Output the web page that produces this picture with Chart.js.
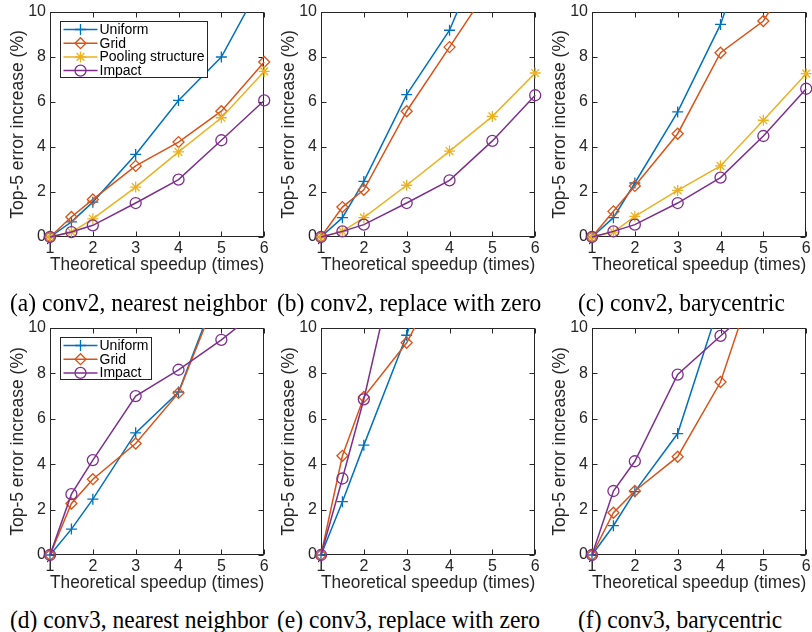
<!DOCTYPE html>
<html>
<head>
<meta charset="utf-8">
<script src="https://cdn.jsdelivr.net/npm/chart.js@4.4.0/dist/chart.umd.min.js"></script>
<style>
  body { margin: 0; background: #fff; }
  #fig { position: relative; width: 812px; height: 632px; overflow: hidden; background: #fff; }
  canvas { position: absolute; }
  .cap { position: absolute; font-family: "Liberation Serif", "Times New Roman", serif; font-size: 25px; color: #000; white-space: nowrap; line-height: 1; transform: scaleX(0.94); transform-origin: left top; }
</style>
</head>
<body>
<div id="fig">
  <canvas id="c2nn" width="271" height="276" style="left:0px;top:0px"></canvas>
  <canvas id="c2zero" width="271" height="276" style="left:271px;top:0px"></canvas>
  <canvas id="c2bary" width="271" height="276" style="left:542px;top:0px"></canvas>
  <canvas id="c3nn" width="271" height="278" style="left:0px;top:316px"></canvas>
  <canvas id="c3zero" width="271" height="278" style="left:271px;top:316px"></canvas>
  <canvas id="c3bary" width="271" height="278" style="left:542px;top:316px"></canvas>
  <div class="cap" style="left:10px;top:290px">(a) conv2, nearest neighbor</div>
  <div class="cap" style="left:277px;top:290px">(b) conv2, replace with zero</div>
  <div class="cap" style="left:578px;top:290px">(c) conv2, barycentric</div>
  <div class="cap" style="left:10px;top:607px">(d) conv3, nearest neighbor</div>
  <div class="cap" style="left:277px;top:607px">(e) conv3, replace with zero</div>
  <div class="cap" style="left:578px;top:607px">(f) conv3, barycentric</div>
</div>
<script>
// x positions of the samples (theoretical speedup)
const speedups = [1, 1.5, 2, 3, 4, 5, 6];

// conv2
const conv2NearestUniform = [0, 0.67, 1.55, 3.67, 6.07, 8.0, 11.5];
const conv2NearestGrid = [0, 0.89, 1.67, 3.16, 4.22, 5.59, 7.78];
const conv2NearestPooling = [0, 0.22, 0.81, 2.22, 3.78, 5.3, 7.36];
const conv2NearestImpact = [0, 0.22, 0.52, 1.51, 2.55, 4.3, 6.07];

const conv2ZeroUniform = [0, 0.86, 2.47, 6.33, 9.19, 13.7];
const conv2ZeroGrid = [0, 1.33, 2.1, 5.59, 8.44, 11.3];
const conv2ZeroPooling = [0, 0.25, 0.86, 2.3, 3.82, 5.36, 7.29];
const conv2ZeroImpact = [0, 0.25, 0.55, 1.51, 2.52, 4.27, 6.3];

const conv2BaryUniform = [0, 0.86, 2.4, 5.56, 9.45, 14.9];
const conv2BaryGrid = [0, 1.14, 2.27, 4.59, 8.19, 9.6, 12.7];
const conv2BaryPooling = [0, 0.22, 0.92, 2.07, 3.16, 5.19, 7.26];
const conv2BaryImpact = [0, 0.25, 0.55, 1.51, 2.64, 4.49, 6.59];

// conv3
const conv3NearestUniform = [0, 1.14, 2.46, 5.38, 7.18, 12.1];
const conv3NearestGrid = [0, 2.27, 3.34, 4.91, 7.14, 11.9];
const conv3NearestImpact = [0, 2.68, 4.18, 7.0, 8.16, 9.48, 10.97];

const conv3ZeroUniform = [0, 2.35, 4.84, 9.68, 16];
const conv3ZeroGrid = [0, 4.37, 6.96, 9.35, 12.95];
const conv3ZeroImpact = [0, 3.37, 6.86, 15.1];

const conv3BaryUniform = [0, 1.29, 2.79, 5.35, 11.2];
const conv3BaryGrid = [0, 1.86, 2.82, 4.33, 7.62, 13.3];
const conv3BaryImpact = [0, 2.82, 4.13, 7.95, 9.65, 11.3];

const FONT = '"Liberation Sans", Arial, sans-serif';
const AXIS = '#262626';
const styles = {
  Uniform: { color: '#0072BD', marker: 'cross' },
  Grid: { color: '#D95319', marker: 'rectRot' },
  'Pooling structure': { color: '#EDB120', marker: 'star' },
  Impact: { color: '#7E2F8E', marker: 'circle' },
};

function drawMarker(ctx, style, x, y, r) {
  if (Chart.helpers && Chart.helpers.drawPoint) {
    Chart.helpers.drawPoint(ctx, { pointStyle: style, radius: r, borderWidth: 1.3, rotation: 0 }, x, y);
  }
}

// box with inward ticks, like matlab axes
const matlabAxes = {
  id: 'matlabAxes',
  beforeDatasetsDraw(chart) {
    const { ctx, chartArea: a, scales: { x, y } } = chart;
    const L = Math.round(a.left) + 0.5, R = Math.round(a.right) - 0.5;
    const T = Math.round(a.top) + 0.5, B = Math.round(a.bottom) - 0.5;
    ctx.save();
    ctx.strokeStyle = AXIS;
    ctx.lineWidth = 1;
    ctx.strokeRect(L, T, R - L, B - T);
    ctx.beginPath();
    x.ticks.forEach((t) => {
      const px = Math.round(x.getPixelForValue(t.value)) + 0.5;
      ctx.moveTo(px, B); ctx.lineTo(px, B - 5);
      ctx.moveTo(px, T); ctx.lineTo(px, T + 5);
    });
    y.ticks.forEach((t) => {
      const py = Math.round(y.getPixelForValue(t.value)) + 0.5;
      ctx.moveTo(L, py); ctx.lineTo(L + 5, py);
      ctx.moveTo(R, py); ctx.lineTo(R - 5, py);
    });
    ctx.stroke();
    ctx.restore();
  },
};

const insetLegend = {
  id: 'insetLegend',
  afterDraw(chart, args, opts) {
    if (!opts.show) return;
    const { ctx, chartArea: a } = chart;
    const sets = chart.data.datasets;
    ctx.save();
    ctx.font = '14px ' + FONT;
    const maxW = Math.max(...sets.map((d) => ctx.measureText(d.label).width));
    const left = Math.round(a.left) + 10.5, top = Math.round(a.top) + 9.5;
    const w = Math.round(39 + maxW + 3), h = Math.round(8 + (sets.length - 1) * 13.7 + 7);
    ctx.fillStyle = '#fff';
    ctx.fillRect(left, top, w, h);
    ctx.strokeStyle = AXIS;
    ctx.lineWidth = 1;
    ctx.strokeRect(left, top, w, h);
    sets.forEach((d, i) => {
      const cy = top + 8 + i * 13.7;
      ctx.strokeStyle = d.borderColor;
      ctx.lineWidth = 1.5;
      ctx.beginPath();
      ctx.moveTo(left + 3, cy); ctx.lineTo(left + 37, cy);
      ctx.stroke();
      ctx.lineWidth = 1.3;
      ctx.fillStyle = 'rgba(0,0,0,0)';
      drawMarker(ctx, d.pointStyle, left + 20, cy, 5.5);
      ctx.fillStyle = '#000';
      ctx.textBaseline = 'middle';
      ctx.textAlign = 'left';
      ctx.fillText(d.label, left + 39, cy + 0.5);
    });
    ctx.restore();
  },
};

function makePanel(id, series, showLegend) {
  const names = Object.keys(series);
  const datasets = names.map((name, i) => ({
    label: name,
    data: series[name].map((v, j) => ({ x: speedups[j], y: v })),
    borderColor: styles[name].color,
    pointBorderColor: styles[name].color,
    pointBackgroundColor: 'rgba(0,0,0,0)',
    pointStyle: styles[name].marker,
    pointRadius: 5.5,
    pointBorderWidth: 1.3,
    borderWidth: 1.5,
    tension: 0,
    fill: false,
    order: names.length - i,
    clip: { left: 10, right: 10, top: 0, bottom: 10 },
  }));

  new Chart(document.getElementById(id), {
    type: 'line',
    data: { datasets },
    plugins: [matlabAxes, insetLegend],
    options: {
      responsive: false,
      animation: false,
      layout: { padding: { left: 0, top: 12, right: 4, bottom: 0 } },
      plugins: {
        legend: { display: false },
        tooltip: { enabled: false },
        insetLegend: { show: showLegend },
      },
      scales: {
        x: {
          type: 'linear',
          min: 1,
          max: 6,
          grid: { display: false, drawTicks: false },
          border: { display: false },
          ticks: { stepSize: 1, autoSkip: false, maxRotation: 0, padding: 2, color: AXIS, font: { family: FONT, size: 16 } },
          title: { display: true, text: 'Theoretical speedup (times)', color: AXIS, padding: 0, font: { family: FONT, size: 17.5 } },
          afterFit: (s) => { s.height = 39; s.paddingLeft = s.paddingRight = s.paddingTop = s.paddingBottom = 0; },
        },
        y: {
          type: 'linear',
          min: 0,
          max: 10,
          grid: { display: false, drawTicks: false },
          border: { display: false },
          ticks: { stepSize: 2, padding: 4, color: AXIS, font: { family: FONT, size: 16 } },
          title: { display: true, text: 'Top-5 error increase (%)', color: AXIS, padding: { top: 7.5, bottom: 0 }, font: { family: FONT, size: 17.5 } },
          afterFit: (s) => { s.width = 50; s.paddingLeft = s.paddingRight = s.paddingTop = s.paddingBottom = 0; },
        },
      },
    },
  });
}

makePanel('c2nn', { Uniform: conv2NearestUniform, Grid: conv2NearestGrid, 'Pooling structure': conv2NearestPooling, Impact: conv2NearestImpact }, true);
makePanel('c2zero', { Uniform: conv2ZeroUniform, Grid: conv2ZeroGrid, 'Pooling structure': conv2ZeroPooling, Impact: conv2ZeroImpact }, false);
makePanel('c2bary', { Uniform: conv2BaryUniform, Grid: conv2BaryGrid, 'Pooling structure': conv2BaryPooling, Impact: conv2BaryImpact }, false);
makePanel('c3nn', { Uniform: conv3NearestUniform, Grid: conv3NearestGrid, Impact: conv3NearestImpact }, true);
makePanel('c3zero', { Uniform: conv3ZeroUniform, Grid: conv3ZeroGrid, Impact: conv3ZeroImpact }, false);
makePanel('c3bary', { Uniform: conv3BaryUniform, Grid: conv3BaryGrid, Impact: conv3BaryImpact }, false);
</script>
</body>
</html>
